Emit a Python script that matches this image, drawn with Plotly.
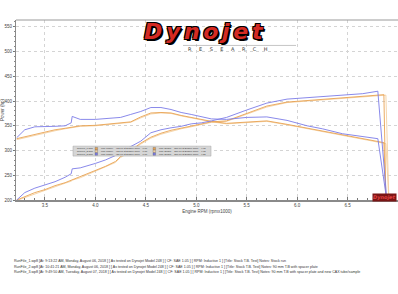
import plotly.graph_objects as go

# ---------------- data ----------------
rpm = [3.22, 3.30, 3.40, 3.50, 3.60, 3.70, 3.76, 3.77, 3.85, 4.00, 4.10, 4.20, 4.25,
       4.35, 4.45, 4.55, 4.65, 4.75, 4.85, 4.95, 5.05, 5.15, 5.30, 5.50, 5.70, 5.90,
       6.10, 6.25, 6.45, 6.65, 6.80]

run3_power = [200, 215, 224, 230, 237, 246, 253, 263, 265, 274, 281, 290, 297,
              308, 319, 336, 342, 346, 349, 354, 356, 360, 367, 382, 396, 404,
              407, 409, 412, 415, 420]
run3_torque = [326, 342, 348, 348, 349, 350, 356, 369, 363, 363, 365, 366, 367,
               373, 379, 387, 387, 383, 377, 373, 369, 364, 363, 367, 368, 361,
               350, 344, 334, 328, 324]

run1_power = [200, 207, 215, 221, 229, 235, 240, 241, 246, 260, 268, 278, 288,
              300, 315, 327, 335, 341, 345, 349, 354, 358, 360, 375, 390, 398,
              401, 403, 406, 409, 412]
run1_torque = [324, 328, 332, 338, 342, 345, 347, 348, 350, 351, 353, 355, 356,
               358, 368, 376, 377, 376, 371, 367, 363, 359, 355, 358, 360, 353,
               345, 340, 331, 323, 317]

run2_power = [199, 205, 213, 220, 227, 234, 238, 240, 245, 258, 266, 276, 286,
              298, 313, 325, 333, 339, 344, 348, 352, 357, 359, 373, 388, 397,
              400, 402, 405, 408, 411]
run2_torque = [322, 326, 331, 336, 340, 344, 346, 347, 349, 350, 352, 354, 355,
               357, 366, 374, 376, 375, 370, 366, 362, 358, 354, 357, 359, 352,
               344, 339, 330, 322, 316]

# end of each pull (drop to the floor)
run1_end_rpm = [6.86, 6.88]
run1_end_power = [413, 198]
run1_end_torque = [316, 198]
run2_end_rpm = [6.88, 6.91]
run2_end_power = [412, 198]
run2_end_torque = [314, 198]
run3_end_rpm = [6.89]
run3_end_power = [198]
run3_end_torque = [198]

x_tickvals = [3.5, 4.0, 4.5, 5.0, 5.5, 6.0, 6.5, 7.0]
x_ticktext = ["3.5", "4.0", "4.5", "5.0", "5.5", "6.0", "6.5", "7"]
y_tickvals = [200, 250, 300, 350, 400, 450, 500, 550]

run_names = ["RunFile_1.wp8", "RunFile_2.wp8", "RunFile_3.wp8"]
footer_lines = [
    "RunFile_1.wp8 [At: 9:13:22 AM, Monday, August 06, 2018 ] [ As tested on Dynojet Model 248 ] [ CF: SAE 1.05 ] [ RPM: Inductive 1 ] [Title: Stock T.B. Test] Notes: Stock run",
    "RunFile_2.wp8 [At: 10:41:21 AM, Monday, August 06, 2018 ] [ As tested on Dynojet Model 248 ] [ CF: SAE 1.05 ] [ RPM: Inductive 1 ] [Title: Stock T.B. Test] Notes: 90 mm T.B with spacer plate",
    "RunFile_3.wp8 [At: 9:49:50 AM, Tuesday, August 07, 2018 ] [ As tested on Dynojet Model 248 ] [ CF: SAE 1.05 ] [ RPM: Inductive 1 ] [Title: Stock T.B. Test] Notes: 90 mm T.B with spacer plate and new CAX tube/sample",
]

# ---------------- styling ----------------
C1 = "#E9A352"
C2 = "#F4D0A0"
C3 = "#7C7CE8"

W, H = 398, 294
L, R, T, B = 16, 398, 20, 200.5


def px(xp):
    return (xp - L) / (R - L)


def py(yp):
    return (B - yp) / (B - T)


fig = go.Figure()

series = [
    (run2_power, run2_end_rpm, run2_end_power, C2),
    (run2_torque, run2_end_rpm, run2_end_torque, C2),
    (run1_power, run1_end_rpm, run1_end_power, C1),
    (run1_torque, run1_end_rpm, run1_end_torque, C1),
    (run3_power, run3_end_rpm, run3_end_power, C3),
    (run3_torque, run3_end_rpm, run3_end_torque, C3),
]
for vals, erpm, evals, col in series:
    fig.add_trace(go.Scatter(x=rpm + erpm, y=vals + evals, mode="lines",
                             line=dict(color=col, width=0.9), showlegend=False,
                             hoverinfo="skip", cliponaxis=True))

fig.update_layout(
    width=W, height=H,
    margin=dict(l=L, r=W - R, t=T, b=H - B),
    paper_bgcolor="white", plot_bgcolor="white",
    font=dict(family="Liberation Sans", size=4, color="#444"),
    showlegend=False,
)
fig.update_xaxes(range=[3.213, 7.0], tickvals=x_tickvals, ticktext=x_ticktext,
                 showgrid=True, gridcolor="#D4D4D4", griddash="dot", gridwidth=0.8,
                 showline=True, linecolor="#8A8A8A", linewidth=2,
                 ticks="inside", ticklen=3, tickcolor="#777",
                 minor=dict(dtick=0.1, tick0=3.0, ticks="inside", ticklen=2, tickcolor="#777", showgrid=False),
                 tickfont=dict(size=4.5, color="#444"), zeroline=False,
                 title=dict(text="Engine RPM (rpmx1000)", font=dict(size=4.5, color="#444"), standoff=2))
fig.update_yaxes(range=[200, 564], tickvals=y_tickvals,
                 showgrid=True, gridcolor="#D4D4D4", griddash="dot", gridwidth=0.8,
                 showline=True, linecolor="#8A8A8A", linewidth=1,
                 ticks="outside", ticklen=2, tickcolor="#777",
                 minor=dict(dtick=10, ticks="outside", ticklen=1.5, tickcolor="#888", showgrid=False),
                 tickfont=dict(size=4.5, color="#444"), zeroline=False,
                 title=dict(text="Power (hp)", font=dict(size=4.5, color="#444"), standoff=2))

shapes = []
# top frame line
shapes.append(dict(type="line", xref="paper", yref="paper", x0=0, x1=1, y0=1, y1=1,
                   line=dict(color="#9A9A9A", width=1)))
# line under the logo
shapes.append(dict(type="line", xref="paper", yref="paper", x0=px(183), x1=px(296), y0=py(45.5), y1=py(45.5),
                   line=dict(color="#AAAAAA", width=0.7)))
# legend box
shapes.append(dict(type="rect", xref="paper", yref="paper", x0=px(73), x1=px(211), y0=py(146.5), y1=py(156.5),
                   fillcolor="#D6D6D6", line=dict(color="#A0A0A0", width=0.5)))

annotations = []
sp = "\u2006"
annotations.append(dict(xref="paper", yref="paper", x=px(204), y=py(32),
                        text="<b><i>" + sp.join("Dynojet") + "</i></b>",
                        showarrow=False, xanchor="center", yanchor="middle",
                        font=dict(family="DejaVu Sans", size=22, color="#D42A22",
                                  shadow="1px 1px 0 #000, -1px -1px 0 #000, 1px -1px 0 #000, -1px 1px 0 #000, 2px 2px 0 #000")))
annotations.append(dict(xref="paper", yref="paper", x=px(228), y=py(49.5),
                        text="\u2003\u2002".join("RESEARCH"),
                        showarrow=False, xanchor="center", yanchor="middle",
                        font=dict(family="DejaVu Sans", size=5, color="#333")))
# small logo at bottom right
annotations.append(dict(xref="paper", yref="paper", x=px(384), y=py(198), text="<b><i>Dynojet</i></b>",
                        showarrow=False, xanchor="center", yanchor="middle", bgcolor="#7A1515",
                        borderpad=0,
                        font=dict(family="DejaVu Sans", size=5, color="#E04040")))

# legend rows
colors = [C1, C2, C3]
powers = [max(run1_power + run1_end_power), max(run2_power + run2_end_power), max(run3_power + run3_end_power)]
peak_rpm_p = [run1_end_rpm[0], run2_end_rpm[0], rpm[-1]]
torques = [max(run1_torque), max(run2_torque), max(run3_torque)]
peak_rpm_t = [rpm[run1_torque.index(max(run1_torque))], rpm[run2_torque.index(max(run2_torque))],
              rpm[run3_torque.index(max(run3_torque))]]
row_y = [149, 151.7, 154.4]
for i in range(3):
    annotations.append(dict(xref="paper", yref="paper", x=px(75), y=py(row_y[i]), text=run_names[i],
                            showarrow=False, xanchor="left", yanchor="middle",
                            font=dict(size=2.4, color="#333")))
    annotations.append(dict(xref="paper", yref="paper", x=px(98.5), y=py(row_y[i]),
                            text=f"Max Power = {powers[i]:.2f} at Engine RPM = {peak_rpm_p[i]:.2f}",
                            showarrow=False, xanchor="left", yanchor="middle",
                            font=dict(size=2.4, color="#333")))
    annotations.append(dict(xref="paper", yref="paper", x=px(156.5), y=py(row_y[i]),
                            text=f"Max Torque = {torques[i]:.2f} at Engine RPM = {peak_rpm_t[i]:.2f}",
                            showarrow=False, xanchor="left", yanchor="middle",
                            font=dict(size=2.4, color="#333")))
    for xi in (95, 153):
        shapes.append(dict(type="rect", xref="paper", yref="paper",
                           x0=px(xi), x1=px(xi + 2.6), y0=py(row_y[i] + 1.2), y1=py(row_y[i] - 1.2),
                           fillcolor=colors[i], line=dict(color="#555", width=0.3)))

# footer
foot_y = [262, 267.5, 273]
for i, line in enumerate(footer_lines):
    annotations.append(dict(xref="paper", yref="paper", x=px(12), y=py(foot_y[i]), text=line,
                            showarrow=False, xanchor="left", yanchor="middle",
                            font=dict(size=3.6, color="#333")))

fig.update_layout(shapes=shapes, annotations=annotations)
fig.write_html("out.html")
